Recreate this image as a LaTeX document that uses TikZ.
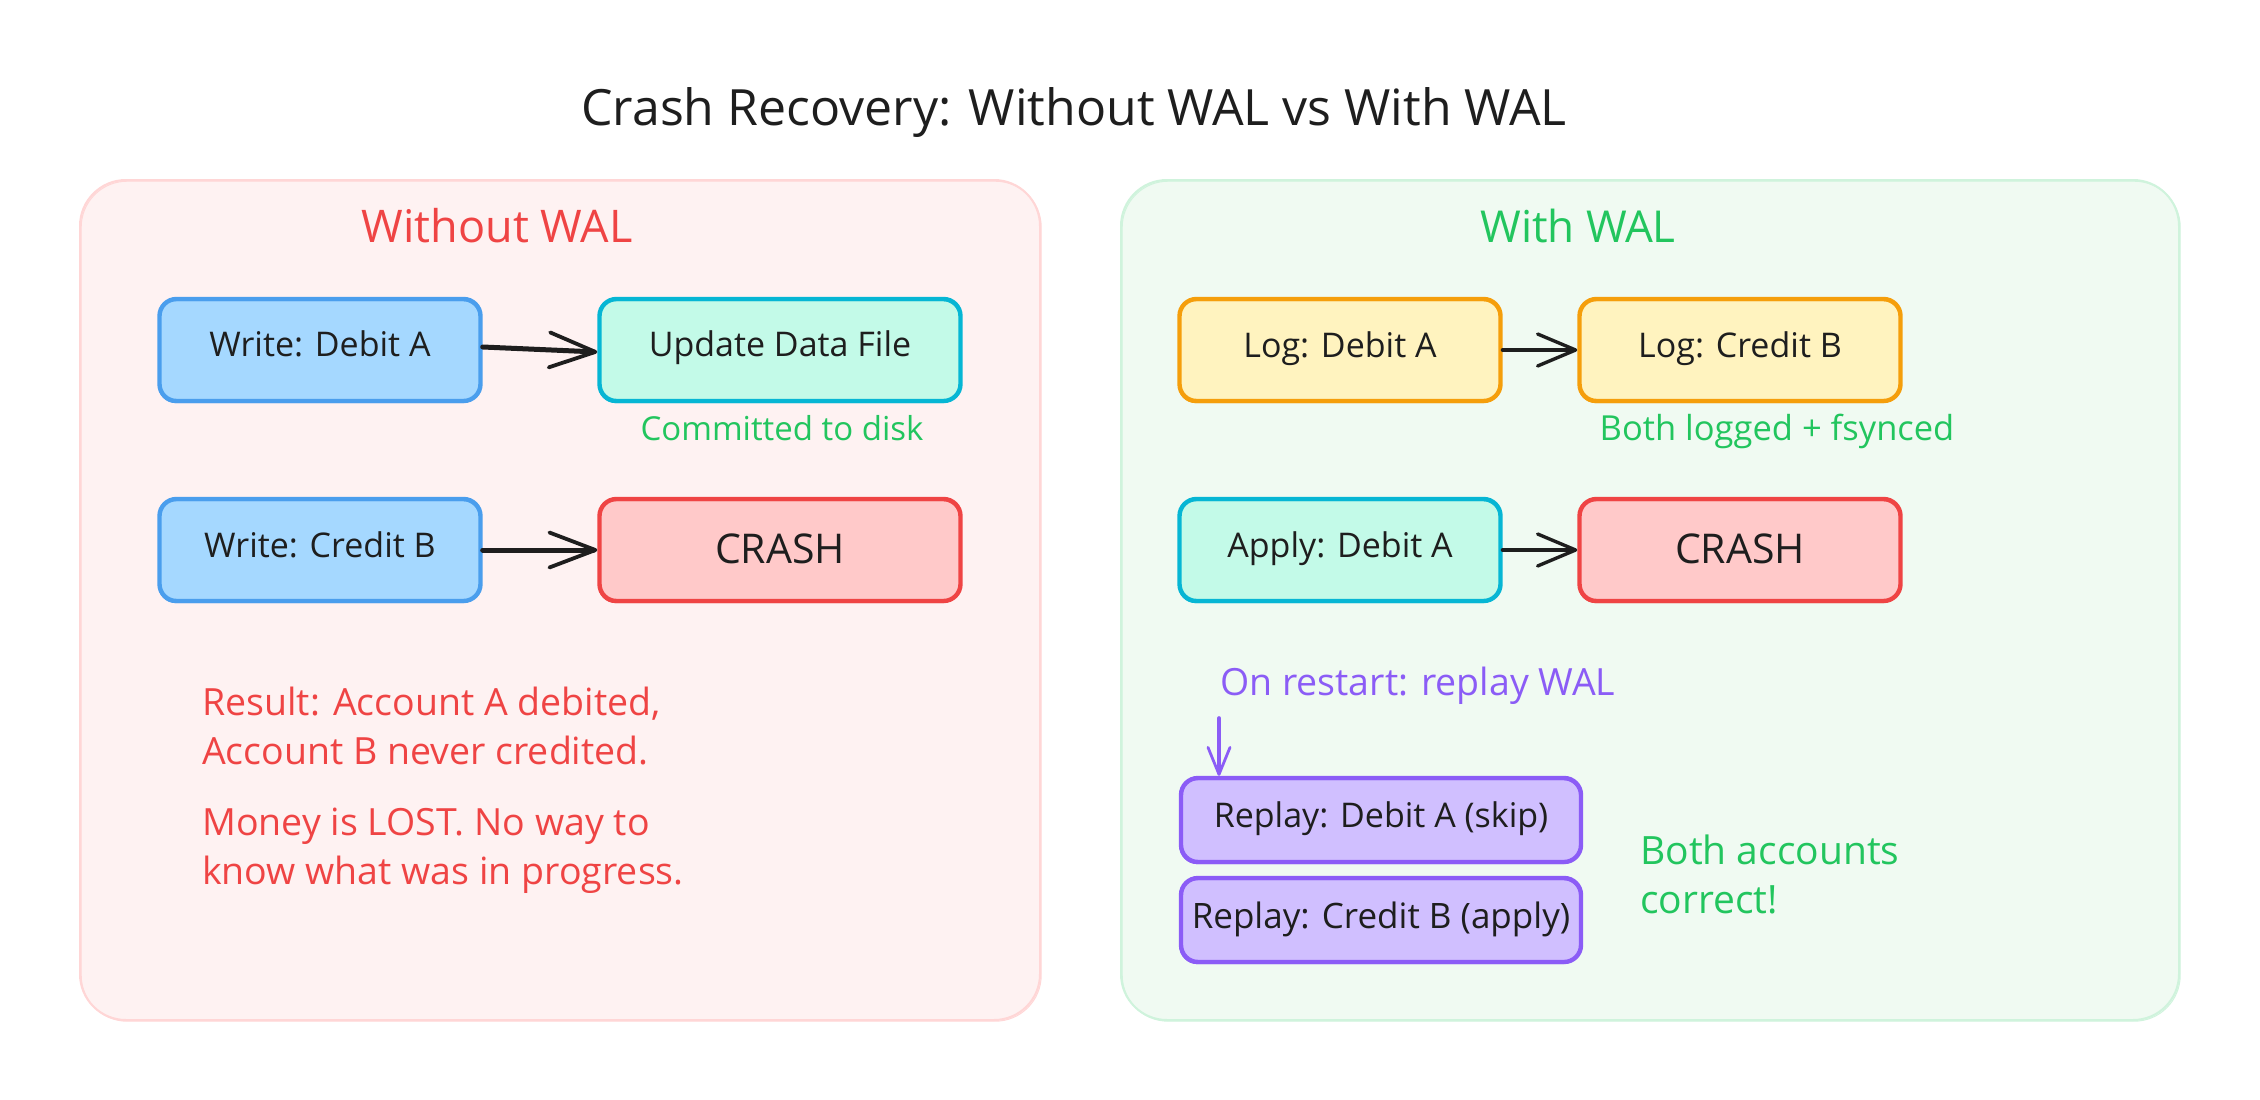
\documentclass[tikz,border=0pt]{standalone}
\usepackage{fontspec}
\setmainfont{Open Sans}
\usetikzlibrary{arrows.meta,calc}
\definecolor{inkc}{HTML}{1E1E1E}
\definecolor{redc}{HTML}{EF4444}
\definecolor{greenc}{HTML}{22C55E}
\definecolor{bluec}{HTML}{4A9EED}
\definecolor{bluef}{HTML}{A5D8FF}
\definecolor{tealc}{HTML}{06B6D4}
\definecolor{tealf}{HTML}{C3FAE8}
\definecolor{redf}{HTML}{FFC9C9}
\definecolor{yelc}{HTML}{F59E0B}
\definecolor{yelf}{HTML}{FFF3BF}
\definecolor{purc}{HTML}{8B5CF6}
\definecolor{purf}{HTML}{D0BFFF}
\definecolor{panrf}{HTML}{FEF2F2}
\definecolor{panrc}{HTML}{FFD6D6}
\definecolor{pangf}{HTML}{F0FAF2}
\definecolor{pangc}{HTML}{CFF3DC}
\newcommand{\fs}[1]{\fontsize{#1}{49}\selectfont}
\newcommand{\up}[1]{\raisebox{12pt}{#1}}
\tikzset{
  x=1pt,y=-1pt,
  panel/.style={draw=#1,line width=2pt,rounded corners=46pt,inner sep=0pt,
     postaction={draw=#1,line width=1pt,transform canvas={xshift=1.2pt,yshift=-1.2pt}}},
  boxn/.style n args={2}{draw=#1,fill=#2,line width=4.4pt,rounded corners=17pt,inner sep=0pt,
     minimum width=321pt,minimum height=102pt,text=inkc,font=\fs{34},
     postaction={draw=#1,line width=1.2pt,transform canvas={xshift=-.8pt,yshift=-1.5pt}}},
  lbl/.style={inner sep=0pt,text=#1},
  flow/.style={draw=inkc,line width=5pt,line cap=round,
     -{Straight Barb[length=46pt,width=35pt,line width=3.8pt,round]}},
  flowb/.style={draw=inkc,line width=4pt,line cap=round,
     -{Straight Barb[length=38pt,width=32pt,line width=3.4pt,round]}},
  pflow/.style={draw=purc,line width=3.6pt,line cap=round,
     -{Straight Barb[length=27pt,width=22pt,line width=2.8pt,round]}},
}
\begin{document}
\begin{tikzpicture}
\path[use as bounding box,fill=white] (0,0) rectangle (2260,1100);
% panels
\node[panel=panrc,fill=panrf,minimum width=960pt,minimum height=840pt] (leftp) at (560,600) {};
\node[panel=pangc,fill=pangf,minimum width=1058pt,minimum height=840pt] (rightp) at (1650,600) {};
% titles
\node[lbl=inkc,font=\fs{50}] (title) at (1074,113) {Crash Recovery: Without WAL vs With WAL};
\node[lbl=redc,font=\fs{45}] (lefttitle) at (497,226) {Without WAL};
\node[lbl=greenc,font=\fs{44}] (righttitle) at (1578,226) {With WAL};
% left boxes
\node[boxn={bluec}{bluef}] (wdebit) at (320,350) {\up{Write: Debit A}};
\node[boxn={tealc}{tealf},minimum width=361pt] (update) at (780,350) {\up{Update Data File}};
\node[boxn={bluec}{bluef}] (wcredit) at (320,550) {\raisebox{11pt}{Write: Credit B}};
\node[boxn={redc}{redf},minimum width=361pt,font=\fs{41}] (crashl) at (780,550) {\raisebox{3pt}{CRASH}};
\node[lbl=greenc,font=\fs{33}] (committed) at (782,428) {Committed to disk};
% right boxes
\node[boxn={yelc}{yelf}] (ldebit) at (1340,350) {\raisebox{10pt}{Log: Debit A}};
\node[boxn={yelc}{yelf}] (lcredit) at (1740,350) {\raisebox{10pt}{Log: Credit B}};
\node[boxn={tealc}{tealf}] (adebit) at (1340,550) {\raisebox{10pt}{Apply: Debit A}};
\node[boxn={redc}{redf},font=\fs{41}] (crashr) at (1740,550) {\raisebox{3pt}{CRASH}};
\node[lbl=greenc,font=\fs{34.5}] (logged) at (1777,431) {Both logged + fsynced};
\node[lbl=purc,font=\fs{37.5},anchor=west] (restart) at (1220,686) {On restart: replay WAL};
\node[boxn={purc}{purf},minimum width=400pt,minimum height=84pt] (rdebit) at (1381,820) {\raisebox{10pt}{Replay: Debit A (skip)}};
\node[boxn={purc}{purf},minimum width=400pt,minimum height=84pt,font=\fs{35}] (rcredit) at (1381,920) {\raisebox{10pt}{Replay: Credit B (apply)}};
\node[lbl=greenc,font=\fs{39},anchor=west,align=left] (ok) at (1640,874) {Both accounts\\correct!};
% red notes
\node[lbl=redc,font=\fs{37.5},anchor=west,align=left] (res) at (202,726) {Result: Account A debited,\\Account B never credited.};
\node[lbl=redc,font=\fs{37.5},anchor=west,align=left] (money) at (202,851) {Money is LOST. No way to\\know what was in progress.};
% connectors
\draw[flow] ($(wdebit.east)+(0,-3)$) -- ($(update.west)+(0,2)$);
\draw[flow] (wcredit.east) -- (crashl.west);
\draw[flowb] (ldebit.east) -- (lcredit.west);
\draw[flowb] (adebit.east) -- (crashr.west);
\coordinate (tail) at (1219,718);
\draw[pflow] (tail) -- (tail |- rdebit.north);
\end{tikzpicture}
\end{document}
